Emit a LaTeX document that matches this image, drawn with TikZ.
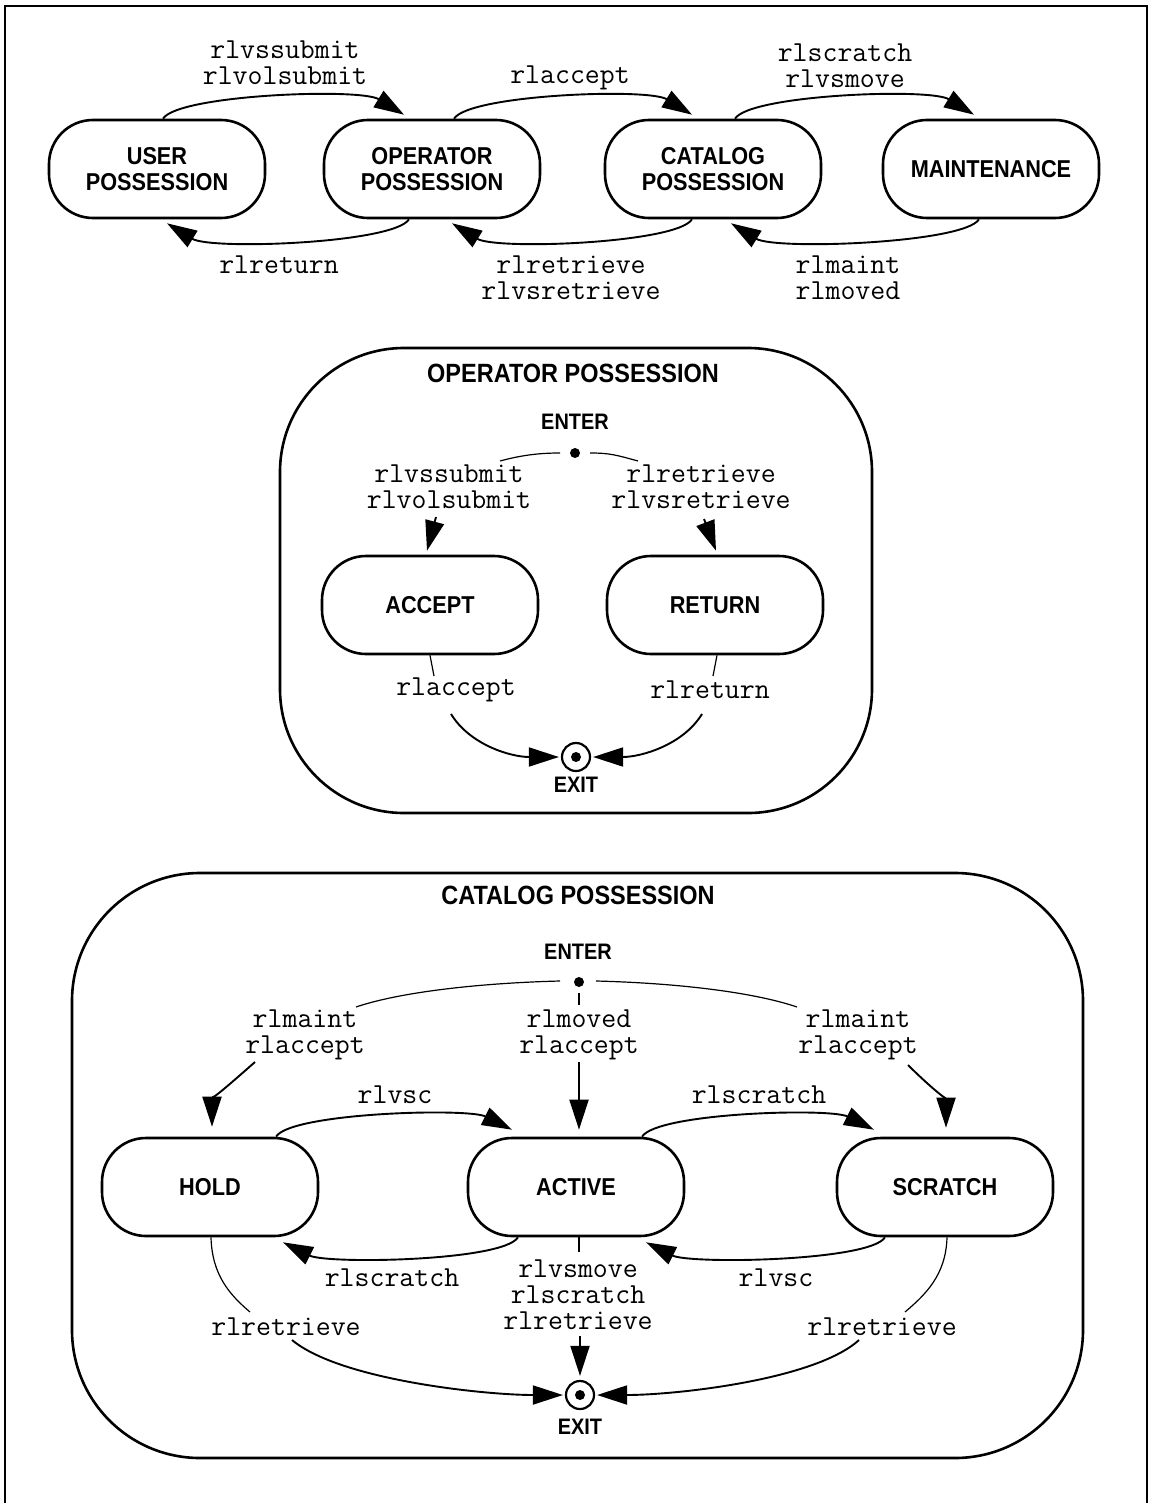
\documentclass[tikz,border=0pt]{standalone}
\usepackage{fontspec}
\usetikzlibrary{arrows.meta,calc}
\newfontfamily\sansb{Liberation Sans}[FakeStretch=0.89]
\tikzset{
  state/.style={draw, line width=1.3pt, rounded corners=22pt, minimum width=108pt,
    minimum height=49pt, inner sep=0pt, align=center,
    font=\sansb\bfseries\fontsize{12.2}{13}\selectfont},
  titletext/.style={inner sep=0pt, font=\sansb\bfseries\fontsize{13.2}{15}\selectfont},
  smalltext/.style={inner sep=0pt, font=\sansb\bfseries\fontsize{11.2}{13}\selectfont},
  lbltop/.style={inner sep=0pt, align=center, font=\ttfamily\fontsize{14.5}{13}\selectfont},
  lblmid/.style={inner sep=0pt, align=center, font=\ttfamily\fontsize{14.5}{13}\selectfont},
  lblbot/.style={inner sep=0pt, align=center, font=\ttfamily\fontsize{14.5}{13}\selectfont},
  conn/.style={line width=0.95pt, -{Triangle[length=15pt,width=9.5pt]}},
  thinln/.style={line width=0.6pt},
  entrydot/.style={circle, fill, inner sep=0pt, minimum size=5pt},
  exitcirc/.style={circle, draw, line width=1.1pt, inner sep=0pt, minimum size=14pt},
  compound/.style={draw, line width=1.3pt, inner sep=0pt}
}
\begin{document}
\begin{tikzpicture}[x=0.5pt,y=-0.5pt]
\useasboundingbox (0,0) rectangle (1153,1503);
% frame
\draw[line width=1.4pt] (5,1503) -- (5,6) -- (1147,6) -- (1147,1503);

% ---------- top row ----------
\node[state] (user) at (157,169) {USER\\POSSESSION};
\node[state] (oper) at (432,169) {OPERATOR\\POSSESSION};
\node[state] (cat) at (713,169) {CATALOG\\POSSESSION};
\node[state] (maint) at (991,169) {MAINTENANCE};

\node[lbltop] (t1) at (285,63) {rlvssubmit\\rlvolsubmit};
\node[lbltop] (t2) at (570,78) {rlaccept};
\node[lbltop] (t3) at (845,66) {rlscratch\\rlvsmove};
\node[lbltop] (t4) at (279,265) {rlreturn};
\node[lbltop] (t5) at (571,278) {rlretrieve\\rlvsretrieve};
\node[lbltop] (t6) at (848,278) {rlmaint\\rlmoved};

\draw[conn] ($(user.north)+(6,0)$) .. controls +(15,-24) and +(-44,-27) .. ($(oper.north)+(-28,-4)$);
\draw[conn] ($(oper.north)+(22,0)$) .. controls +(15,-24) and +(-44,-27) .. ($(cat.north)+(-21,-4)$);
\draw[conn] ($(cat.north)+(22,0)$) .. controls +(15,-24) and +(-44,-27) .. ($(maint.north)+(-17,-4)$);
\draw[conn] ($(oper.south)+(-23,0)$) .. controls +(-15,24) and +(44,27) .. ($(user.south)+(10,4)$);
\draw[conn] ($(cat.south)+(-21,0)$) .. controls +(-15,24) and +(44,27) .. ($(oper.south)+(20,4)$);
\draw[conn] ($(maint.south)+(-12,0)$) .. controls +(-15,24) and +(44,27) .. ($(cat.south)+(18,4)$);

% ---------- operator possession ----------
\node[compound, rounded corners=62pt, minimum width=296pt, minimum height=232.5pt] (opbox) at (576,580.5) {};
\node[titletext] (optitle) at (573,373) {OPERATOR POSSESSION};
\node[smalltext] (openter) at (575,422) {ENTER};
\node[entrydot] (oin) at (575,453) {};
\node[lblmid] (m1) at (449,487) {rlvssubmit\\rlvolsubmit};
\node[lblmid] (m2) at (701,487) {rlretrieve\\rlvsretrieve};
\node[state] (accept) at (430,605) {ACCEPT};
\node[state] (return) at (715,605) {RETURN};
\node[lblmid] (m3) at (456,690) {rlaccept};
\node[lblmid] (m4) at (710,690) {rlreturn};
\node[exitcirc] (oexit) at (576,757) {};
\fill (oexit.center) circle (2.5pt);
\node[smalltext] (oexitl) at (576,785) {EXIT};

\coordinate (ma) at (500,461);
\coordinate (mb) at (638,461);
\coordinate (mc) at (436,517);
\coordinate (md) at (704,519);
\coordinate (me) at (434,676);
\coordinate (mf) at (713,676);
\coordinate (mg) at (451,714);
\coordinate (mh) at (702,714);

\draw[thinln] ($(oin)+(-15,0)$) .. controls +(-20,0) and +(22,-6) .. (ma);
\draw[thinln] ($(oin)+(15,0)$) .. controls +(20,0) and +(-22,-6) .. (mb);
\draw[conn] (mc) -- ($(accept.north)+(-3,-4)$);
\draw[conn] (md) -- ($(return.north)+(1,-4)$);
\draw[thinln] (accept.south) -- (me);
\draw[thinln] ($(return.south)+(2,0)$) -- (mf);
\draw[conn, shorten >=1pt] (mg) .. controls +(19,31) and +(-50,0) .. (oexit.west);
\draw[conn, shorten >=1pt] (mh) .. controls +(-19,31) and +(50,0) .. (oexit.east);

% ---------- catalog possession ----------
\node[compound, rounded corners=64pt, minimum width=505.5pt, minimum height=292.5pt] (catbox) at (577.5,1165.5) {};
\node[titletext] (cattitle) at (578,895) {CATALOG POSSESSION};
\node[smalltext] (centerl) at (578,952) {ENTER};
\node[entrydot] (cin) at (579,982) {};
\node[lblbot] (b1) at (305,1035) {rlmaint\\rlaccept};
\node[lblbot] (b2) at (579,1035) {rlmoved\\rlaccept};
\node[lblbot] (b3) at (858,1035) {rlmaint\\rlaccept};
\node[lblbot] (b4) at (395,1095) {rlvsc};
\node[lblbot] (b5) at (759,1095) {rlscratch};
\node[state] (hold) at (210,1187) {HOLD};
\node[state] (active) at (576,1187) {ACTIVE};
\node[state] (scratch) at (945,1187) {SCRATCH};
\node[lblbot] (b6) at (392,1278) {rlscratch};
\node[lblbot] (b7) at (776,1278) {rlvsc};
\node[lblbot] (b8) at (578,1295) {rlvsmove\\rlscratch\\rlretrieve};
\node[lblbot] (b9) at (286,1327) {rlretrieve};
\node[lblbot] (b10) at (882,1327) {rlretrieve};
\node[exitcirc] (cexit) at (580,1395) {};
\fill (cexit.center) circle (2.5pt);
\node[smalltext] (cexitl) at (580,1427) {EXIT};

\coordinate (ca) at (356,1007);
\coordinate (cb) at (797,1007);
\coordinate (cc) at (579,1005);
\coordinate (cd) at (255,1062);
\coordinate (ce) at (579,1062);
\coordinate (cf) at (908,1065);
\coordinate (cg) at (579,1252);
\coordinate (ch) at (580,1336);
\coordinate (ci) at (250,1312);
\coordinate (cj) at (292,1340);
\coordinate (ck) at (905,1312);
\coordinate (cl) at (859,1340);

\draw[thinln] ($(cin)+(-19,-1)$) .. controls +(-80,2) and +(44,-15) .. (ca);
\draw[thinln] ($(cin)+(17,-1)$) .. controls +(80,2) and +(-44,-15) .. (cb);
\draw[thinln] ($(cin)+(0,11)$) -- (cc);
\draw[conn] (cd) .. controls +(-25,22) and +(0,-27) .. ($(hold.north)+(2,-10)$);
\draw[conn] (ce) -- ($(active.north)+(3,-7)$);
\draw[conn] (cf) .. controls +(20,20) and +(0,-28) .. ($(scratch.north)+(1,-9)$);
\draw[conn] ($(hold.north)+(66,0)$) .. controls +(15,-24) and +(-44,-22) .. ($(active.north)+(-64,-7)$);
\draw[conn] ($(active.north)+(66,0)$) .. controls +(15,-24) and +(-44,-22) .. ($(scratch.north)+(-71,-7)$);
\draw[conn] ($(active.south)+(-58,0)$) .. controls +(-15,24) and +(44,22) .. ($(hold.south)+(73,5)$);
\draw[conn] ($(scratch.south)+(-60,0)$) .. controls +(-15,24) and +(44,22) .. ($(active.south)+(70,5)$);
\draw[thinln] ($(active.south)+(3,0)$) -- (cg);
\draw[conn, shorten >=2pt] (ch) -- (cexit.north);
\draw[thinln] ($(hold.south)+(1,0)$) .. controls +(1,38) and +(-20,-17) .. (ci);
\draw[conn, shorten >=1pt] (cj) .. controls +(48,40) and +(-80,0) .. (cexit.west);
\draw[thinln] ($(scratch.south)+(2,0)$) .. controls +(-1,38) and +(20,-17) .. (ck);
\draw[conn, shorten >=1pt] (cl) .. controls +(-44,40) and +(80,0) .. (cexit.east);
\end{tikzpicture}
\end{document}
